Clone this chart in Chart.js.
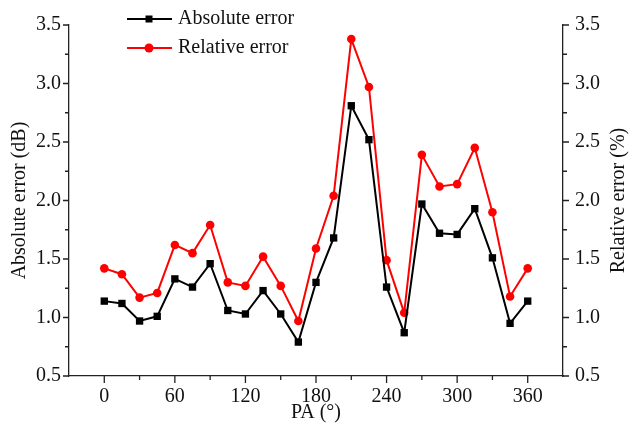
<!DOCTYPE html>
<html>
<head>
<meta charset="utf-8">
<script src="https://cdn.jsdelivr.net/npm/chart.js@4"></script>
<style>
    body { margin: 0; background: #fff; }
    #contenedor { width: 630px; height: 440px; }
</style>
</head>
<body>
<div id="contenedor"><canvas id="graficoError" width="630" height="440"></canvas></div>
<script>
// DATOS

    // angulo PA (grados)
    const anguloPA = [0, 15, 30, 45, 60, 75, 90, 105, 120, 135, 150, 165, 180,
                      195, 210, 225, 240, 255, 270, 285, 300, 315, 330, 345, 360];

    // error absoluto (dB)
    const errorAbsoluto = [1.14, 1.12, 0.97, 1.01, 1.33, 1.26, 1.46, 1.06, 1.03, 1.23, 1.03, 0.79, 1.30,
                           1.68, 2.81, 2.52, 1.26, 0.87, 1.97, 1.72, 1.71, 1.93, 1.51, 0.95, 1.14];

    // error relativo (%)
    const errorRelativo = [1.42, 1.37, 1.17, 1.21, 1.62, 1.55, 1.79, 1.30, 1.27, 1.52, 1.27, 0.97, 1.59,
                           2.04, 3.38, 2.97, 1.49, 1.04, 2.39, 2.12, 2.14, 2.45, 1.90, 1.18, 1.42];

    const ticksX = [0, 60, 120, 180, 240, 300, 360];
    const ticksY = [0.5, 1.0, 1.5, 2.0, 2.5, 3.0, 3.5];

    const nombresSeries = ['Absolute error', 'Relative error'];
    const tituloX = 'PA (°)';
    const tituloY = 'Absolute error (dB)';
    const tituloY1 = 'Relative error (%)';


// GRAFICO

    const fuente = '"Liberation Serif", "Times New Roman", serif';

    // ticks mayores y menores hacia afuera + titulos + leyenda
    const pluginEjes = {
        id: 'pluginEjes',
        afterDraw(chart) {
            const ctx = chart.ctx;
            const { x, y, y1 } = chart.scales;
            const area = chart.chartArea;
            ctx.save();
            ctx.strokeStyle = '#222';
            ctx.lineWidth = 1.3;
            ctx.beginPath();

            // eje x
            ticksX.forEach((v, i) => {
                const px = x.getPixelForValue(v);
                ctx.moveTo(px, area.bottom); ctx.lineTo(px, area.bottom + 7);
                if (i < ticksX.length - 1) {
                    const pm = x.getPixelForValue((v + ticksX[i + 1]) / 2);
                    ctx.moveTo(pm, area.bottom); ctx.lineTo(pm, area.bottom + 4);
                }
            });

            // ejes y
            ticksY.forEach((v, i) => {
                const py = y.getPixelForValue(v);
                ctx.moveTo(area.left, py); ctx.lineTo(area.left - 6, py);
                ctx.moveTo(area.right, py); ctx.lineTo(area.right + 6, py);
                if (i < ticksY.length - 1) {
                    const pm = y.getPixelForValue((v + ticksY[i + 1]) / 2);
                    ctx.moveTo(area.left, pm); ctx.lineTo(area.left - 4, pm);
                    ctx.moveTo(area.right, pm); ctx.lineTo(area.right + 4, pm);
                }
            });
            ctx.stroke();

            // titulos
            ctx.fillStyle = '#111';
            ctx.font = '20px ' + fuente;
            ctx.textAlign = 'center';
            ctx.textBaseline = 'middle';
            const centroY = (area.top + area.bottom) / 2;
            ctx.fillText(tituloX, (area.left + area.right) / 2, 413);

            ctx.save();
            ctx.translate(20, centroY);
            ctx.rotate(-Math.PI / 2);
            ctx.fillText(tituloY, 0, 0);
            ctx.restore();

            ctx.save();
            ctx.translate(619, centroY);
            ctx.rotate(-Math.PI / 2);
            ctx.fillText(tituloY1, 0, 0);
            ctx.restore();

            // leyenda
            const filas = [19, 48];
            chart.data.datasets.forEach((ds, i) => {
                const yy = filas[i];
                ctx.strokeStyle = ds.borderColor;
                ctx.lineWidth = 2;
                ctx.beginPath();
                ctx.moveTo(127, yy); ctx.lineTo(172, yy);
                ctx.stroke();
                ctx.fillStyle = ds.backgroundColor;
                if (ds.pointStyle === 'rect') {
                    ctx.fillRect(149 - 3.5, yy - 3.5, 7, 7);
                } else {
                    ctx.beginPath();
                    ctx.arc(149, yy, 4.5, 0, Math.PI * 2);
                    ctx.fill();
                }
                ctx.fillStyle = '#111';
                ctx.textAlign = 'left';
                ctx.fillText(ds.label, 178, yy);
            });
            ctx.restore();
        }
    };

    document.addEventListener('DOMContentLoaded', function () {
        const ctx = document.getElementById('graficoError').getContext('2d');

        new Chart(ctx, {
            type: 'line',
            data: {
                datasets: [{
                    label: nombresSeries[0],
                    data: anguloPA.map((a, i) => ({ x: a, y: errorAbsoluto[i] })),
                    yAxisID: 'y',
                    borderColor: '#000',
                    backgroundColor: '#000',
                    borderWidth: 2,
                    pointStyle: 'rect',
                    pointRadius: 5.2,
                    pointBorderWidth: 0,
                    tension: 0
                }, {
                    label: nombresSeries[1],
                    data: anguloPA.map((a, i) => ({ x: a, y: errorRelativo[i] })),
                    yAxisID: 'y1',
                    borderColor: '#ff0000',
                    backgroundColor: '#ff0000',
                    borderWidth: 2,
                    pointStyle: 'circle',
                    pointRadius: 4.3,
                    pointBorderWidth: 0,
                    tension: 0
                }]
            },
            options: {
                responsive: false,
                animation: false,
                layout: { padding: { top: 25, left: 0, right: 0, bottom: 0 } },
                plugins: {
                    legend: { display: false },
                    tooltip: { enabled: false }
                },
                scales: {
                    x: {
                        type: 'linear',
                        min: -30,
                        max: 390,
                        afterBuildTicks: s => { s.ticks = ticksX.map(v => ({ value: v })); },
                        afterFit: s => { s.height = 64; },
                        grid: { display: false, drawTicks: false },
                        border: { display: true, color: '#222', width: 1.3 },
                        ticks: { padding: 9, color: '#111', font: { family: fuente, size: 20 }, maxRotation: 0 }
                    },
                    y: {
                        position: 'left',
                        min: 0.5,
                        max: 3.5,
                        afterBuildTicks: s => { s.ticks = ticksY.map(v => ({ value: v })); },
                        afterFit: s => { s.width = 69; },
                        grid: { display: false, drawTicks: false },
                        border: { display: true, color: '#222', width: 1.3 },
                        ticks: { padding: 8, color: '#111', font: { family: fuente, size: 20 },
                                 callback: v => v.toFixed(1) }
                    },
                    y1: {
                        position: 'right',
                        min: 0.5,
                        max: 3.5,
                        afterBuildTicks: s => { s.ticks = ticksY.map(v => ({ value: v })); },
                        afterFit: s => { s.width = 67; },
                        grid: { display: false, drawTicks: false },
                        border: { display: true, color: '#222', width: 1.3 },
                        ticks: { padding: 12, color: '#111', font: { family: fuente, size: 20 },
                                 callback: v => v.toFixed(1) }
                    }
                }
            },
            plugins: [pluginEjes]
        });
    });
</script>
</body>
</html>
